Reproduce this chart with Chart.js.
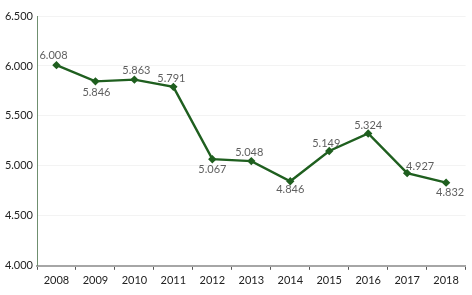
<!DOCTYPE html>
<html>
<head>
<meta charset="utf-8">
<script src="https://cdn.jsdelivr.net/npm/chart.js@4/dist/chart.umd.min.js"></script>
<style>
  body { margin: 0; background: #fff; }
  #wrap { width: 472px; height: 295px; }
</style>
</head>
<body>
<div id="wrap"><canvas id="trend"></canvas></div>
<script>
const years = ['2008', '2009', '2010', '2011', '2012', '2013', '2014', '2015', '2016', '2017', '2018'];
const values = [6008, 5846, 5863, 5791, 5067, 5048, 4846, 5149, 5324, 4927, 4832];
const yTicks = [4000, 4500, 5000, 5500, 6000, 6500];

const fmt = v => v.toLocaleString('de-DE');

// label offsets relative to each point (dx, dy)
const labelOffsets = [[-3, -10], [1, 11], [2, -9], [-2, -8], [0, 10], [-2, -9], [0, 8], [-3, -8], [0, -8], [13, -7], [4, 10]];

const pointLabels = {
    id: 'pointLabels',
    afterDatasetsDraw(chart) {
        const ctx = chart.ctx;
        const meta = chart.getDatasetMeta(0);
        ctx.save();
        ctx.font = '11px Lato';
        ctx.fillStyle = '#5f5f5f';
        ctx.textAlign = 'center';
        ctx.textBaseline = 'middle';
        meta.data.forEach((pt, i) => {
            const o = labelOffsets[i];
            ctx.fillText(fmt(values[i]), pt.x + o[0], pt.y + o[1]);
        });
        ctx.restore();
    }
};

new Chart(document.getElementById('trend'), {
    type: 'line',
    data: {
        labels: years,
        datasets: [{
            data: values,
            borderColor: '#1f5f1f',
            backgroundColor: '#1f5f1f',
            borderWidth: 2.4,
            pointStyle: 'rectRot',
            pointRadius: 2.5,
            tension: 0
        }]
    },
    options: {
        responsive: true,
        maintainAspectRatio: false,
        animation: false,
        layout: { padding: { top: 16, right: 6, bottom: 4, left: 0 } },
        plugins: { legend: { display: false }, tooltip: { enabled: false } },
        scales: {
            x: {
                offset: true,
                grid: { offset: true, drawOnChartArea: false, tickLength: 4, color: '#555' },
                border: { color: '#a6a6a6', width: 2 },
                ticks: { color: '#222', font: { family: 'Lato', size: 11 }, padding: 4 }
            },
            y: {
                min: 4000,
                max: 6500,
                afterBuildTicks: s => { s.ticks = yTicks.map(v => ({ value: v })); },
                afterFit: s => { s.width = 37; },
                grid: { color: '#f3f3f3', drawTicks: false },
                border: { color: '#6f8f6f', width: 1 },
                ticks: { color: '#222', font: { family: 'Lato', size: 11 }, padding: 4, callback: v => fmt(v) }
            }
        }
    },
    plugins: [pointLabels]
});
</script>
</body>
</html>
